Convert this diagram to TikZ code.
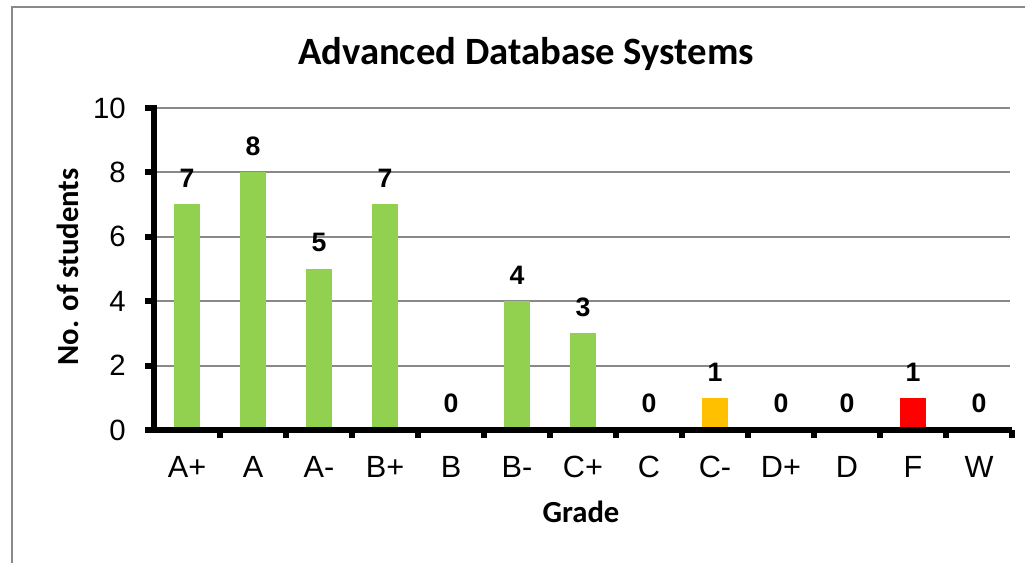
\documentclass[tikz,border=0pt]{standalone}
\usepackage{fontspec}
\setmainfont{Liberation Sans}
\newfontfamily\calibri{Carlito}
\usetikzlibrary{positioning}

\definecolor{barGreen}{HTML}{92D050}
\definecolor{barOrange}{HTML}{FFC000}
\definecolor{barRed}{HTML}{FF0000}
\definecolor{gridGray}{HTML}{898989}

\tikzset{
  grid line/.style={gridGray,line width=1.5pt},
  axis line/.style={black,line width=4.5pt},
  bar/.style={rectangle,inner sep=0pt,minimum width=20pt,anchor=south},
  value label/.style={font=\bfseries\fontsize{20}{22}\selectfont,inner sep=0pt},
  tick label/.style={font=\fontsize{22}{24}\selectfont,inner sep=0pt},
  cat label/.style={font=\fontsize{23}{25}\selectfont,inner sep=0pt},
  axis title/.style={font=\calibri\bfseries\fontsize{23}{25}\selectfont,inner sep=0pt}
}

\begin{document}
\begin{tikzpicture}[x=0.75pt,y=-0.75pt]
  \useasboundingbox (0,0) rectangle (1025,562);

  % Frame
  \begin{scope}
    \clip (0,0) rectangle (1025,562);
    \draw[grid line] (12,7) rectangle (1040,580);
  \end{scope}

  % Title
  \node[font=\calibri\bfseries\fontsize{29}{32}\selectfont,anchor=base,inner sep=0pt] (title) at (526,64) {Advanced Database Systems};

  % Grid and y ticks
  \foreach \v in {2,4,...,10}
    \draw[grid line] (154,{430-32.2*\v}) -- (1010,{430-32.2*\v});
  \foreach \v in {0,2,...,10} {
    \draw[axis line] (145,{430-32.2*\v}) -- (154,{430-32.2*\v});
    \node[tick label,anchor=east] (ytick-\v) at (126,{430-32.2*\v}) {\v};
  }

  % Bars
  \foreach \g/\n/\c [count=\i] in {A+/7/barGreen, A/8/barGreen, A-/5/barGreen, B+/7/barGreen,
      B/0/white, B-/4/barGreen, C+/3/barGreen, C/0/white, C-/1/barOrange, D+/0/white,
      D/0/white, F/1/barRed, W/0/white} {
    \node[bar,fill=\c,minimum height={24.15pt*\n}] (bar-\i) at ({121+66*\i},430) {};
    \node[value label,above=12pt of bar-\i] (val-\i) {\n};
    \node[cat label] (cat-\i) at ({121+66*\i},467) {\g};
  }

  % Axes
  \draw[axis line] (154,105) -- (154,430);
  \draw[axis line] (145,430) -- (1012,430);
  \foreach \k in {1,...,13}
    \draw[axis line] ({154+66*\k},430) -- ({154+66*\k},438);

  % Axis titles
  \node[axis title,rotate=90] (ytitle) at (68,267) {No. of students};
  \node[axis title,anchor=base] (xtitle) at (581,522) {Grade};
\end{tikzpicture}
\end{document}
